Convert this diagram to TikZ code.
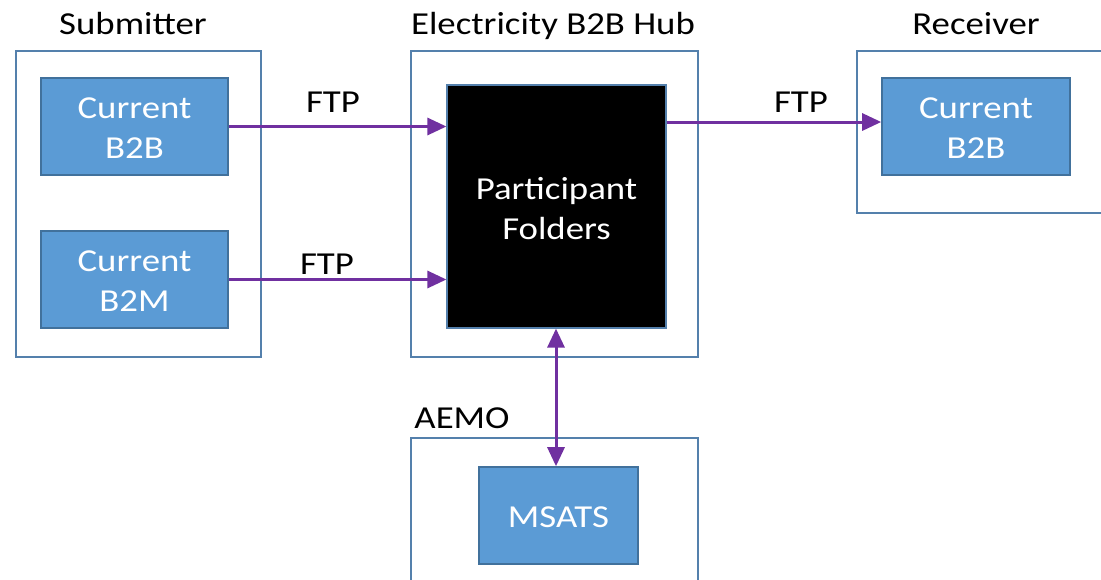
\documentclass[tikz,border=0pt]{standalone}
\usepackage{fontspec}
\usepackage{graphicx}
\setmainfont{Carlito}
\usetikzlibrary{arrows.meta}
\definecolor{boxblue}{RGB}{91,155,213}
\definecolor{boxedge}{RGB}{65,113,156}
\definecolor{outeredge}{RGB}{84,128,172}
\definecolor{arrowpurple}{RGB}{112,48,160}
\newcommand{\widetext}[1]{\scalebox{1.15}[1]{\begin{tabular}{@{}c@{}}#1\end{tabular}}}
\newcommand{\boxtext}[2][-4pt]{\raisebox{#1}[\height][\depth]{\widetext{#2}}}
\tikzset{
  outerbox/.style={draw=outeredge, line width=1.4pt, fill=white, minimum width=#1, inner sep=0pt},
  bluebox/.style={draw=boxedge, line width=1.6pt, fill=boxblue, text=white, inner sep=0pt},
  blackbox/.style={draw=outeredge, line width=1.2pt, fill=black, text=white, inner sep=0pt},
  lbl/.style={text=black, inner sep=0pt},
  conn/.style={draw=arrowpurple, line width=3pt},
  tip/.style={-{Triangle[length=19pt,width=17pt]}},
  every node/.style={font=\fontsize{32}{40}\selectfont}
}
\begin{document}
\begin{tikzpicture}[x=1pt,y=-1pt]
\useasboundingbox (0,0) rectangle (1101,579);
% outer containers
\node[outerbox=245pt, minimum height=306pt] (sub) at (138.5,204) {};
\node[outerbox=287pt, minimum height=306pt] (hub) at (554.5,204) {};
\node[outerbox=260pt, minimum height=162pt] (rec) at (987,132) {};
\node[outerbox=287pt, minimum height=160pt] (aemo) at (554.5,518) {};
% titles
\node[lbl] (tsub) at (133,26) {\widetext{Submitter}};
\node[lbl] (thub) at (553,26) {\widetext{Electricity B2B Hub}};
\node[lbl] (trec) at (976,26) {\widetext{Receiver}};
\node[lbl] (taemo) at (462,420) {\widetext{AEMO}};
% inner boxes
\node[bluebox, minimum width=187pt, minimum height=97pt] (sb2b) at (134.5,126.5) {\boxtext{Current\\B2B}};
\node[bluebox, minimum width=187pt, minimum height=97pt] (sb2m) at (134.5,279.5) {\boxtext{Current\\B2M}};
\node[blackbox, minimum width=219pt, minimum height=243pt] (pf) at (556.5,206.5) {\boxtext[-5pt]{Participant\\Folders}};
\node[bluebox, minimum width=188pt, minimum height=97pt] (rb2b) at (976,126.5) {\boxtext{Current\\B2B}};
\node[bluebox, minimum width=159pt, minimum height=97pt] (ms) at (558.5,515.5) {\boxtext{MSATS}};
% FTP labels
\node[lbl] (f1) at (333,104) {\widetext{FTP}};
\node[lbl] (f2) at (327,266) {\widetext{FTP}};
\node[lbl] (f3) at (801,104) {\widetext{FTP}};
% connectors
\coordinate (ry) at (0,122);
\coordinate (vx) at (556,0);
\draw[conn, tip] (sb2b.east) -- (pf.west |- sb2b.east);
\draw[conn, tip] (sb2m.east) -- (pf.west |- sb2m.east);
\draw[conn, tip] (pf.east |- ry) -- (rb2b.west |- ry);
\draw[conn, {Triangle[length=19pt,width=17pt]}-{Triangle[length=19pt,width=17pt]}] (vx |- pf.south) -- (vx |- ms.north);
\end{tikzpicture}
\end{document}
